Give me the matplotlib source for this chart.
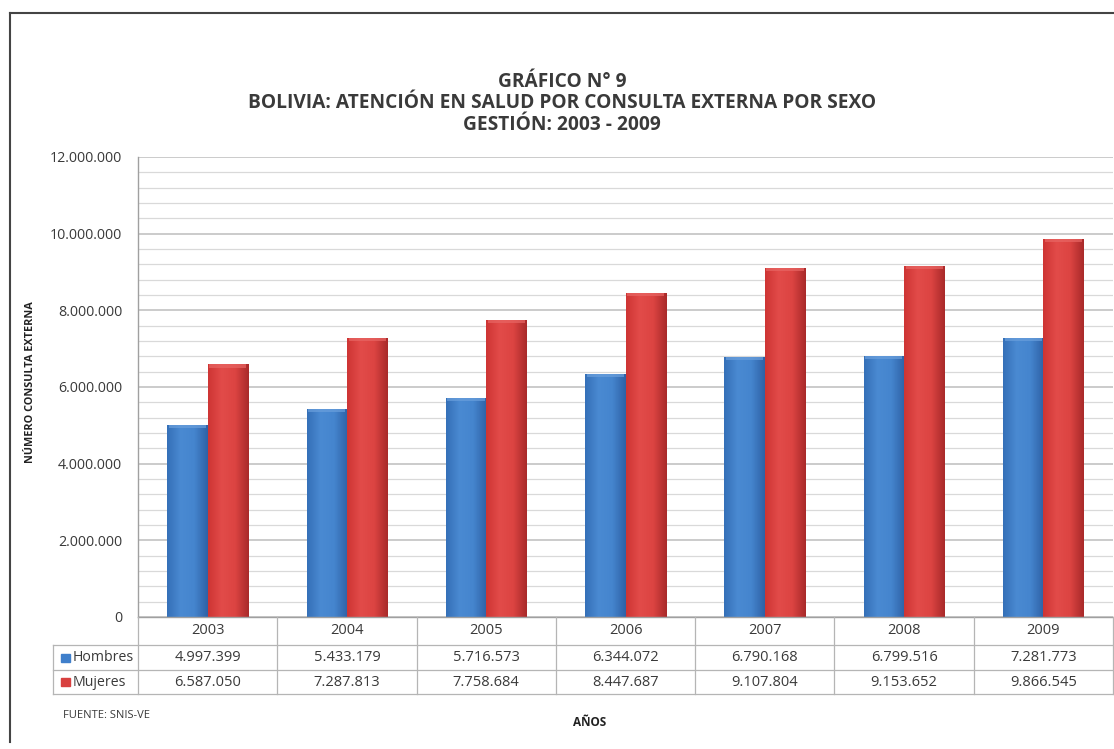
import matplotlib.pyplot as plt
import numpy as np
from matplotlib.colors import LinearSegmentedColormap
from matplotlib.patches import Rectangle
from matplotlib.lines import Line2D

years = ['2003', '2004', '2005', '2006', '2007', '2008', '2009']
hombres = [4997399, 5433179, 5716573, 6344072, 6790168, 6799516, 7281773]
mujeres = [6587050, 7287813, 7758684, 8447687, 9107804, 9153652, 9866545]
series_names = ['Hombres', 'Mujeres']

def fmt(v):
    return f"{v:,}".replace(',', '.')

plt.rcParams['font.family'] = ['Open Sans', 'DejaVu Sans']

fig = plt.figure(figsize=(11.14, 7.49), dpi=100)
W, H = 1114, 749
def fx(px): return px / W
def fy(py): return 1 - py / H

ax = fig.add_axes([fx(138), fy(617), fx(1113) - fx(138), fy(157) - fy(617)])

blue_cm = LinearSegmentedColormap.from_list('b', ['#3570B8', '#4A8AD2', '#4585CE', '#2F62A6'])
red_cm = LinearSegmentedColormap.from_list('r', ['#CE3534', '#E24B49', '#DC4442', '#A92A2A'])
blue_top = '#6A9FDC'
red_top = '#E86664'

w = 0.29
x = np.arange(len(years))
grad = np.linspace(0, 1, 64).reshape(1, -1)
for vals, off, cm, topc in [(hombres, -0.145, blue_cm, blue_top), (mujeres, 0.145, red_cm, red_top)]:
    bars = ax.bar(x + off, vals, width=w, color='none', zorder=3)
    for b in bars:
        x0, y1 = b.get_x(), b.get_height()
        im = ax.imshow(grad, cmap=cm, aspect='auto', extent=[x0, x0 + w, 0, y1],
                       zorder=3, interpolation='bicubic')
        im.set_clip_path(b)
        ax.add_patch(Rectangle((x0 + 0.012, y1 - 80000), w - 0.024, 80000,
                               color=topc, alpha=0.7, zorder=4, lw=0))

ax.set_xlim(-0.5, len(years) - 0.5)
ax.set_ylim(0, 12000000)
ax.set_yticks(np.arange(0, 12000001, 2000000))
ax.set_yticks(np.arange(0, 12000001, 400000), minor=True)
ax.set_yticklabels([fmt(v) for v in range(0, 12000001, 2000000)], fontsize=10.3, color='#3A3A3A')
ax.tick_params(axis='y', which='both', length=0, pad=11.5)
ax.set_xticks([])
ax.grid(axis='y', which='major', color='#BDBDBD', lw=1.1, zorder=0)
ax.grid(axis='y', which='minor', color='#D9D9D9', lw=0.9, zorder=0)
for s in ['top', 'right', 'bottom']:
    ax.spines[s].set_visible(False)
ax.spines['left'].set_color('#A0A0A0')
ax.spines['left'].set_linewidth(1.0)

# data table below the axis
lc = '#B5B5B5'
rows_y = [617, 645, 670, 694]
x_left, x_lab, x_right = 53, 138, 1113
col_w = (x_right - x_lab) / len(years)
fig.add_artist(Line2D([fx(x_lab), fx(x_right)], [fy(617), fy(617)], color='#A0A0A0', lw=1))
for yy in rows_y[1:]:
    fig.add_artist(Line2D([fx(x_left), fx(x_right)], [fy(yy), fy(yy)], color=lc, lw=0.9))
fig.add_artist(Line2D([fx(x_left), fx(x_left)], [fy(645), fy(694)], color=lc, lw=0.9))
for i in range(len(years) + 1):
    xx = x_lab + i * col_w
    fig.add_artist(Line2D([fx(xx), fx(xx)], [fy(617), fy(694)], color=lc, lw=0.9))
for i, yr in enumerate(years):
    cx = fx(x_lab + (i + 0.5) * col_w)
    fig.text(cx, fy(631), yr, ha='center', va='center', fontsize=10.5, color='#3A3A3A')
    fig.text(cx, fy(657.5), fmt(hombres[i]), ha='center', va='center', fontsize=10.5, color='#3A3A3A')
    fig.text(cx, fy(682), fmt(mujeres[i]), ha='center', va='center', fontsize=10.5, color='#3A3A3A')
for name, yy, col in [('Hombres', 657.5, '#3F7FCB'), ('Mujeres', 682, '#D8403F')]:
    fig.add_artist(Rectangle((fx(61), fy(yy + 4)), fx(9), fy(0) - fy(8), color=col))
    fig.text(fx(73), fy(yy), name, ha='left', va='center', fontsize=10.2, color='#3A3A3A')

# titles
title_kw = dict(ha='center', va='center', fontsize=13.8, fontweight='bold', color='#3A3A3A')
fig.text(fx(562), fy(82), 'GRÁFICO N° 9', **title_kw)
fig.text(fx(562), fy(103), 'BOLIVIA: ATENCIÓN EN SALUD POR CONSULTA EXTERNA POR SEXO', **title_kw)
fig.text(fx(562), fy(125), 'GESTIÓN: 2003 - 2009', **title_kw)
fig.text(fx(31), fy(382), 'NÚMERO CONSULTA EXTERNA', rotation=90, ha='center', va='center',
         fontsize=7.8, fontweight='bold', color='#222222')
fig.text(fx(63), fy(715), 'FUENTE: SNIS-VE', ha='left', va='center', fontsize=8, color='#3A3A3A')
fig.text(fx(590), fy(722), 'AÑOS', ha='center', va='center', fontsize=8.5, fontweight='bold',
         color='#222222')

# outer frame
fig.add_artist(Line2D([fx(10), fx(1114)], [fy(13), fy(13)], color='#444444', lw=1.5))
fig.add_artist(Line2D([fx(10), fx(10)], [fy(13), fy(742)], color='#444444', lw=1.5))

fig.savefig('out.png', dpi=100)
